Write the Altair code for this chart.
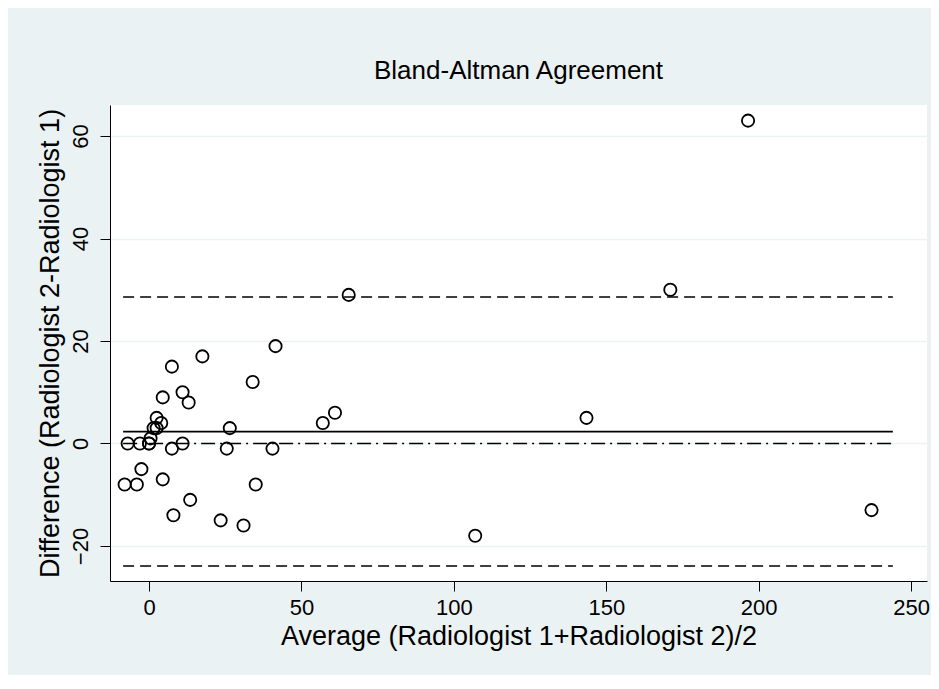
import altair as alt
import pandas as pd

# Data
avg = [-7, -8, -4, -3, -2.5, 0, 0, 0.5, 1.5, 2.5, 2.5, 4, 4.5, 4.5, 7.5, 7.5, 8,
       11, 11, 13, 13.5, 17.5, 23.5, 25.5, 26.5, 31, 34, 35, 40.5, 41.5, 57, 61,
       65.5, 107, 143.5, 171, 196.5, 237]
diff = [0, -8, -8, 0, -5, 0, 0, 1, 3, 3, 5, 4, 9, -7, 15, -1, -14,
        10, 0, 8, -11, 17, -15, -1, 3, -16, 12, -8, -1, 19, 4, 6,
        29, -18, 5, 30, 63, -13]

mean_diff = 2.3
upper_loa = 28.6
lower_loa = -23.9
zero_ref = 0
line_x_start = -8.5
line_x_end = 244

x_ticks = [0, 50, 100, 150, 200, 250]
y_ticks = [-20, 0, 20, 40, 60]
x_domain = [-12.8, 255.2]
y_domain = [-26.83, 66.05]

pts = pd.DataFrame({"avg": avg, "diff": diff})
lines = pd.DataFrame({
    "kind": ["upper", "lower", "mean", "zero"],
    "y": [upper_loa, lower_loa, mean_diff, zero_ref],
    "x1": [line_x_start] * 4,
    "x2": [line_x_end] * 4,
})

FONT = "Liberation Sans"
W, H = 817, 476

xscale = alt.Scale(domain=x_domain, nice=False, zero=False)
yscale = alt.Scale(domain=y_domain, nice=False, zero=False)

xaxis = alt.Axis(values=x_ticks, grid=False, title="Average (Radiologist 1+Radiologist 2)/2",
                 labelFontSize=22, titleFontSize=27, tickSize=10, labelPadding=6,
                 titlePadding=5, domainColor="black", tickColor="black",
                 labelColor="black", titleColor="black", titleFontWeight="normal",
                 labelFont=FONT, titleFont=FONT, labelFlush=False)
yaxis = alt.Axis(values=y_ticks, grid=True, gridColor="#EAF2F3", gridWidth=1.5,
                 title="Difference (Radiologist 2-Radiologist 1)",
                 labelFontSize=22, titleFontSize=27, tickSize=10, labelAngle=-90,
                 labelAlign="center", labelBaseline="bottom", labelPadding=8,
                 titlePadding=5, domainColor="black", tickColor="black",
                 labelColor="black", titleColor="black", titleFontWeight="normal",
                 labelFont=FONT, titleFont=FONT, labelFlush=False)

base_lines = alt.Chart(lines)

dashed = base_lines.transform_filter(
    alt.FieldOneOfPredicate(field="kind", oneOf=["upper", "lower"])
).mark_rule(color="black", strokeWidth=1.5, strokeDash=[11, 6]).encode(
    x=alt.X("x1:Q", scale=xscale, axis=xaxis),
    x2="x2:Q",
    y=alt.Y("y:Q", scale=yscale, axis=yaxis),
)

solid = base_lines.transform_filter(
    alt.FieldEqualPredicate(field="kind", equal="mean")
).mark_rule(color="black", strokeWidth=1.7).encode(
    x=alt.X("x1:Q", scale=xscale), x2="x2:Q", y=alt.Y("y:Q", scale=yscale)
)

dashdot = base_lines.transform_filter(
    alt.FieldEqualPredicate(field="kind", equal="zero")
).mark_rule(color="black", strokeWidth=1.5, strokeDash=[14, 5, 2, 5]).encode(
    x=alt.X("x1:Q", scale=xscale), x2="x2:Q", y=alt.Y("y:Q", scale=yscale)
)

points = alt.Chart(pts).mark_point(shape="circle", filled=False, color="black",
                                   size=150, strokeWidth=1.8, opacity=1).encode(
    x=alt.X("avg:Q", scale=xscale),
    y=alt.Y("diff:Q", scale=yscale),
)

chart = alt.layer(dashed, solid, dashdot, points).properties(
    width=W,
    height=H,
    title=alt.TitleParams("Bland-Altman Agreement", fontSize=26, font=FONT,
                          fontWeight="normal", color="black", anchor="middle",
                          offset=21),
    background="#EAF2F3",
    padding={"left": 102, "top": 97, "right": 4, "bottom": 94},
    autosize=alt.AutoSizeParams(type="none"),
).configure_view(fill="white", stroke=None)

chart.save("out.html", embed_options={"renderer": "svg", "actions": False})
